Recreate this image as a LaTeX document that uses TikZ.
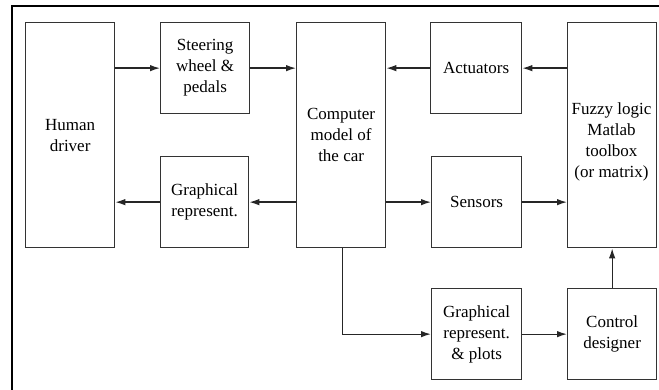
\documentclass[tikz,border=0pt]{standalone}
\usepackage{fontspec}
\setmainfont{Liberation Serif}
\newfontfamily\diagserif{Liberation Serif}
\usetikzlibrary{arrows.meta}
\begin{document}
\begin{tikzpicture}[x=1pt,y=-1pt,
  box/.style={draw=black!80, line width=1.3pt, fill=white, anchor=north west, align=center,
    font=\diagserif\fontsize{17}{21}\selectfont, inner sep=0pt},
  lbl/.style={align=center, font=\diagserif\fontsize{17}{21}\selectfont, inner sep=0pt},
  conn/.style={draw=black!85, line width=1.3pt, -{Latex[length=10pt,width=6.5pt]}}]
\useasboundingbox (0,0) rectangle (659,390);
\draw[line width=1.8pt, black] (12,390) -- (12,6) -- (659,6);
\node[box, minimum width=89pt, minimum height=225pt] (human) at (25,22) {Human\\driver};
\node[box, minimum width=89pt, minimum height=91pt] (steer) at (160,22) {Steering\\wheel \&\\pedals};
\node[box, minimum width=88pt, minimum height=91pt] (graph) at (160,156) {Graphical\\represent.};
\node[box, minimum width=89pt, minimum height=225pt] (comp) at (296,22) {Computer\\model of\\the car};
\node[box, minimum width=91pt, minimum height=91pt] (act) at (430,22) {Actuators};
\node[box, minimum width=90pt, minimum height=91pt] (sens) at (431,156) {Sensors};
\node[box, minimum width=89pt, minimum height=225pt] (fuzzy) at (567,22) {};
\node[lbl] (fuzzytxt) at (611.5,142) {Fuzzy logic\\Matlab\\toolbox\\(or matrix)};
\node[box, minimum width=90pt, minimum height=91pt] (plots) at (431,288) {Graphical\\represent.\\\& plots};
\node[box, minimum width=89pt, minimum height=91pt] (ctrl) at (567,288) {Control\\designer};
\draw[conn] (human.east |- steer.west) -- (steer.west);
\draw[conn] (steer.east) -- (comp.west |- steer.east);
\draw[conn] (act.west) -- (comp.east |- act.west);
\draw[conn] (fuzzy.west |- act.east) -- (act.east);
\draw[conn] (comp.west |- graph.east) -- (graph.east);
\draw[conn] (graph.west) -- (human.east |- graph.west);
\draw[conn] (comp.east |- sens.west) -- (sens.west);
\draw[conn] (sens.east) -- (fuzzy.west |- sens.east);
\draw[conn] ([xshift=1.5pt]comp.south) |- (plots.west);
\draw[conn] (plots.east) -- (ctrl.west);
\draw[conn] (ctrl.north) -- (fuzzy.south);
\end{tikzpicture}
\end{document}
